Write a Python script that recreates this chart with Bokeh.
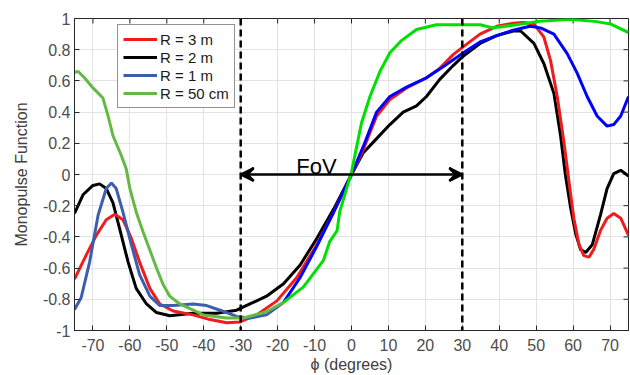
import math
from bokeh.plotting import figure
from bokeh.models import Span, Arrow, VeeHead, FixedTicker, Legend, LegendItem, Range1d
from bokeh.core.properties import value
from bokeh.embed import file_html
from bokeh.resources import INLINE

# R = 3 m
red_x = [-75, -71.8, -69.1, -66.4, -64.1, -61.9, -59.6, -57.4, -54.6, -51.9, -48.3, -42.9, -38.3, -33.8, -30.2,
         -25.7, -20.2, -14.8, -9.4, -4.8, 0, 3.2, 6.8, 10.4, 14.9, 20.3, 23.9, 27.6, 30.3, 34.8, 39.3, 43.8, 46.5,
         49.4, 52.1, 53.9, 55.7, 57.5, 58.9, 60.2, 61.6, 62.9, 64.3, 65.6, 67.4, 69.2, 71, 72.9, 75]
red_y = [-0.67, -0.515, -0.39, -0.29, -0.255, -0.29, -0.41, -0.56, -0.73, -0.83, -0.875, -0.90, -0.93, -0.95, -0.945,
         -0.90, -0.81, -0.66, -0.45, -0.24, 0, 0.16, 0.375, 0.48, 0.555, 0.62, 0.68, 0.77, 0.82, 0.90, 0.95, 0.97, 0.975,
         0.965, 0.88, 0.73, 0.50, 0.21, -0.05, -0.28, -0.45, -0.52, -0.53, -0.48, -0.36, -0.28, -0.25, -0.28, -0.39]

# R = 2 m
black_x = [-75, -72.7, -70, -68.2, -66.4, -64.6, -62.8, -60.5, -58.3, -55.5, -52.8, -49.2, -42.9, -36.5, -31.1,
           -27.5, -23, -18.4, -13.9, -9.4, -4.8, 0, 3.2, 6.8, 10.4, 14, 17.6, 20.3, 23.9, 27.6, 30.3, 34.8, 39.3,
           43.8, 45.8, 49.4, 52.1, 54.8, 56.6, 57.9, 59.3, 60.7, 62, 63.4, 65.2, 67.4, 69.2, 71, 72.9, 75]
black_y = [-0.25, -0.13, -0.07, -0.06, -0.09, -0.18, -0.345, -0.56, -0.73, -0.83, -0.885, -0.905, -0.89, -0.89, -0.87,
           -0.83, -0.78, -0.70, -0.58, -0.41, -0.22, 0, 0.14, 0.23, 0.32, 0.40, 0.44, 0.50, 0.61, 0.70, 0.76, 0.84, 0.89,
           0.92, 0.92, 0.84, 0.71, 0.52, 0.25, 0.0, -0.21, -0.38, -0.48, -0.50, -0.45, -0.26, -0.09, 0.006, 0.027, -0.01]

# R = 1 m
blue_x = [-75, -73.2, -70.9, -68.6, -66.4, -65, -63.7, -61.9, -59.6, -57.4, -54.6, -51.9, -48.3, -42.9, -39.2,
          -35.6, -31.1, -27.5, -23, -18.4, -13.9, -9.4, -4.8, 0, 3.2, 6.8, 10.4, 14.9, 20.3, 24.8, 30.3, 34.8, 39.3,
          43.8, 48.3, 51.2, 54.8, 58.4, 61.1, 63.8, 66.5, 69.2, 71, 72.9, 75]
blue_y = [-0.865, -0.79, -0.56, -0.26, -0.09, -0.055, -0.09, -0.24, -0.45, -0.64, -0.78, -0.84, -0.84, -0.83, -0.84,
          -0.87, -0.91, -0.92, -0.90, -0.82, -0.66, -0.46, -0.24, 0, 0.18, 0.40, 0.50, 0.56, 0.62, 0.69, 0.78, 0.85, 0.89,
          0.925, 0.95, 0.94, 0.90, 0.775, 0.65, 0.50, 0.375, 0.31, 0.32, 0.375, 0.50]

# R = 50 cm
green_x = [-75, -74, -72.3, -70, -67.3, -65.9, -64.6, -62.3, -61, -60, -58.3, -56.4, -54.2, -52.8, -51, -49.2,
           -46.5, -40.1, -33.8, -29.3, -23, -18.4, -13, -7.6, -5.9, -3.9, -3.2, 0, 2.7, 5, 7.7, 10.4, 13.6, 17.6,
           23, 30.3, 34.8, 38.4, 44.7, 50.1, 59.3, 66.4, 70.1, 75]
green_y = [0.655, 0.66, 0.62, 0.555, 0.49, 0.375, 0.25, 0.12, 0.036, -0.09, -0.24, -0.37, -0.51, -0.60, -0.705, -0.78,
           -0.83, -0.90, -0.92, -0.92, -0.88, -0.82, -0.72, -0.55, -0.43, -0.36, -0.24, 0.015, 0.33, 0.50, 0.66, 0.78,
           0.86, 0.93, 0.96, 0.96, 0.96, 0.94, 0.96, 0.98, 0.995, 0.98, 0.965, 0.91]

labels = ["R = 3 m", "R = 2 m", "R = 1 m", "R = 50 cm"]
fov = [-30, 30]
fov_label = "FoV"
x_lim = [-75, 75]
y_lim = [-1, 1]
x_ticks = [-70, -60, -50, -40, -30, -20, -10, 0, 10, 20, 30, 40, 50, 60, 70]
y_ticks = [-1, -0.8, -0.6, -0.4, -0.2, 0, 0.2, 0.4, 0.6, 0.8, 1]
split = -18

FONT = "Liberation Sans"
AX = "#262626"

p = figure(width=630, height=375, output_backend="svg", toolbar_location=None,
           x_range=Range1d(*x_lim), y_range=Range1d(*y_lim),
           min_border_left=74, min_border_right=2, min_border_top=18, min_border_bottom=43)
p.background_fill_color = "white"
p.border_fill_color = "white"
p.outline_line_color = AX
p.outline_line_width = 1

p.xaxis.ticker = FixedTicker(ticks=x_ticks)
p.yaxis.ticker = FixedTicker(ticks=y_ticks)
p.xaxis.major_label_overrides = {t: str(t) for t in x_ticks}
p.yaxis.major_label_overrides = {t: ("%g" % t) for t in y_ticks}
for ax in (p.xaxis[0], p.yaxis[0]):
    ax.major_tick_in = 5
    ax.major_tick_out = 0
    ax.minor_tick_line_color = None
    ax.axis_line_color = AX
    ax.major_tick_line_color = AX
    ax.major_label_text_font = FONT
    ax.major_label_text_font_size = "16px"
    ax.major_label_text_color = "#4d4d4d"
    ax.axis_label_text_font = FONT
    ax.axis_label_text_font_size = "16px"
    ax.axis_label_text_font_style = "normal"
    ax.axis_label_text_color = "#404040"
p.xaxis.axis_label = "ϕ (degrees)"
p.yaxis.axis_label = "Monopulse Function"
p.xaxis.major_label_standoff = 8
p.xaxis.axis_label_standoff = 2
p.yaxis.major_label_standoff = 4
p.yaxis.axis_label_standoff = 10

# inward ticks on the top and right edges of the box
p.ray(x=x_ticks, y=[y_lim[1]] * len(x_ticks), length=5, length_units="screen",
      angle=-math.pi / 2, line_color=AX, line_width=1)
p.ray(x=[x_lim[1]] * len(y_ticks), y=y_ticks, length=5, length_units="screen",
      angle=math.pi, line_color=AX, line_width=1)

p.grid.grid_line_color = "#e3e3e3"
p.grid.grid_line_width = 1
p.xgrid.ticker = FixedTicker(ticks=x_ticks)
p.ygrid.ticker = FixedTicker(ticks=y_ticks)

LW = 3


def split_series(xs, ys, s):
    idx = max(i for i, x in enumerate(xs) if x <= s)
    return xs[:idx + 1], ys[:idx + 1], xs[idx:], ys[idx:]


r_black = p.line(black_x, black_y, line_color="black", line_width=LW)
r_red = p.line(red_x, red_y, line_color="#f01c1c", line_width=LW)

bl = split_series(blue_x, blue_y, split)
r_blue = p.line(bl[0], bl[1], line_color="#3c5ead", line_width=LW)
p.line(bl[2], bl[3], line_color="#0000ff", line_width=LW)

gl = split_series(green_x, green_y, split)
r_green = p.line(gl[0], gl[1], line_color="#66b845", line_width=LW)
p.line(gl[2], gl[3], line_color="#00e000", line_width=LW)

for loc in fov:
    p.add_layout(Span(location=loc, dimension="height", line_color="black",
                      line_dash="7 4", line_width=2.5))

p.add_layout(Arrow(x_start=fov[0], y_start=0, x_end=fov[1], y_end=0,
                   line_width=2.5, line_color="black",
                   start=VeeHead(size=13, line_width=2.5, line_color="black", fill_color="black"),
                   end=VeeHead(size=13, line_width=2.5, line_color="black", fill_color="black")))

p.text(x=[(fov[0] + fov[1]) / 2 - 9.5], y=[0.05], text=[fov_label], text_font=value(FONT),
       text_font_size="22px", text_align="center", text_baseline="alphabetic", text_color="black")

leg = Legend(items=[LegendItem(label=labels[0], renderers=[r_red]),
                    LegendItem(label=labels[1], renderers=[r_black]),
                    LegendItem(label=labels[2], renderers=[r_blue]),
                    LegendItem(label=labels[3], renderers=[r_green])],
             location=(43, 222))
leg.label_text_font = FONT
leg.label_text_font_size = "15px"
leg.label_text_color = "#1a1a1a"
leg.label_height = 18
leg.glyph_height = 18
leg.glyph_width = 34
leg.label_standoff = 3
leg.spacing = 0
leg.padding = 5
leg.margin = 0
leg.border_line_color = AX
leg.border_line_width = 1
leg.background_fill_color = "white"
leg.background_fill_alpha = 1
p.add_layout(leg)

open("out.html", "w").write(file_html(p, INLINE))
